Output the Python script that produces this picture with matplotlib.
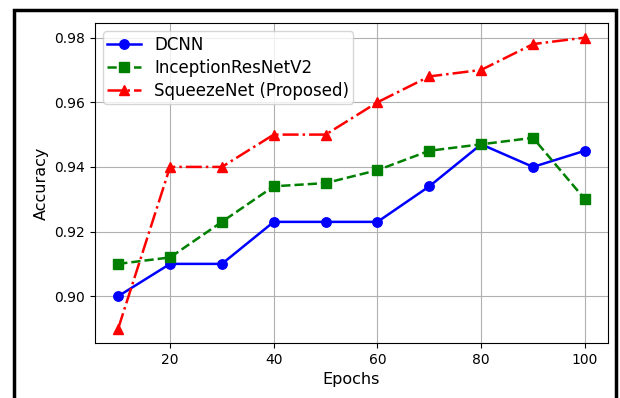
import matplotlib
matplotlib.use("Agg")
import matplotlib.pyplot as plt
from matplotlib.patches import Rectangle

epochs = [10, 20, 30, 40, 50, 60, 70, 80, 90, 100]
dcnn = [0.900, 0.910, 0.910, 0.923, 0.923, 0.923, 0.934, 0.947, 0.940, 0.945]
inception = [0.910, 0.912, 0.923, 0.934, 0.935, 0.939, 0.945, 0.947, 0.949, 0.930]
squeeze = [0.890, 0.940, 0.940, 0.950, 0.950, 0.960, 0.968, 0.970, 0.978, 0.980]

fig = plt.figure(figsize=(6.2, 3.98), dpi=100)
ax = fig.add_axes([0.153, 0.138, 0.828, 0.804])

ax.plot(epochs, dcnn, 'b-o', label='DCNN', markersize=6.8, linewidth=1.8)
ax.plot(epochs, inception, 'g--s', label='InceptionResNetV2', markersize=6.8, linewidth=1.8)
ax.plot(epochs, squeeze, 'r-.^', label='SqueezeNet (Proposed)', markersize=6.8, linewidth=1.8)

ax.set_xlabel('Epochs', fontsize=11.5)
ax.set_ylabel('Accuracy', fontsize=11.5)
ax.tick_params(labelsize=10)
ax.set_xticks([20, 40, 60, 80, 100])
ax.set_yticks([0.90, 0.92, 0.94, 0.96, 0.98])
ax.grid(True)
ax.legend(loc='upper left', fontsize=12, labelspacing=0.3, borderpad=0.25)

# black frame around the figure (bottom cut off)
fig.patches.append(Rectangle((0.023, -0.05), 0.971, 1.025, transform=fig.transFigure,
                             fill=False, edgecolor='black', linewidth=2.5))

fig.savefig('out.png', dpi=100)
